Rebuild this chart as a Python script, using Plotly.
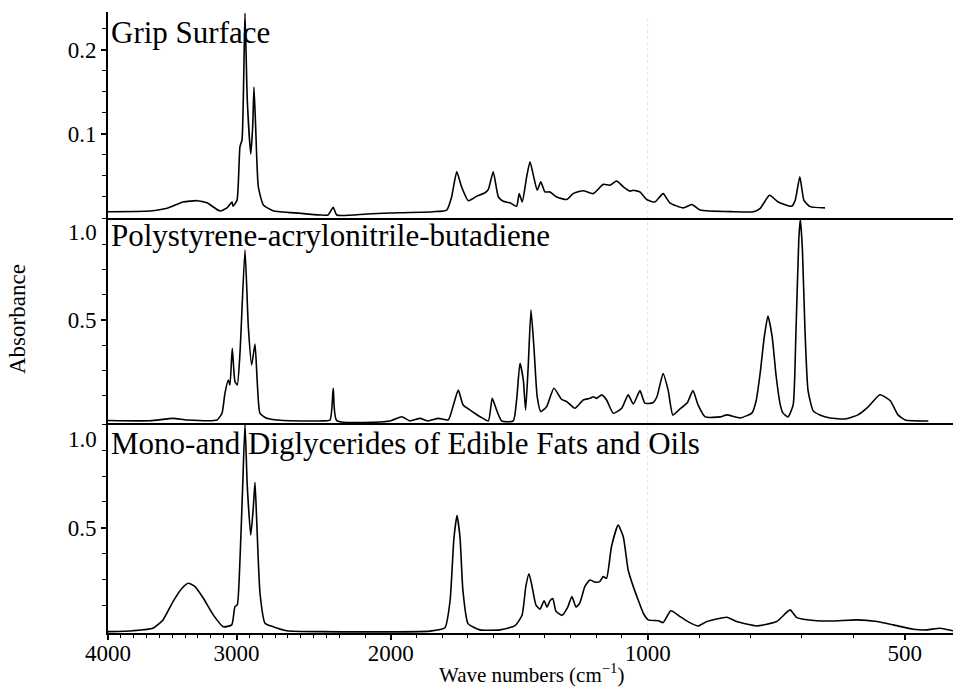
import plotly.graph_objects as go

# ---------------- data ----------------
grip_wn = [4000, 3673, 3541, 3416, 3307, 3230, 3128, 3074, 3035, 3027, 2996, 2973, 2957, 2934,
           2916, 2889, 2874, 2864, 2851, 2830, 2791, 2716, 2506, 2350, 2288, 2247, 2220, 2093,
           1964, 1834, 1782, 1763, 1743, 1724, 1698, 1665, 1633, 1620, 1601, 1581, 1562, 1536,
           1510, 1500, 1488, 1471, 1458, 1445, 1430, 1416, 1400, 1380, 1354, 1315, 1290, 1251,
           1212, 1173, 1147, 1121, 1095, 1069, 1056, 1030, 1004, 986, 970, 957, 931, 914, 898,
           833, 794, 781, 763, 746, 720, 713, 704, 696, 684, 655]
grip_abs = [0.0075, 0.0083, 0.0115, 0.019, 0.0206, 0.018, 0.0083, 0.012, 0.019, 0.014, 0.021, 0.085,
            0.093, 0.244, 0.14, 0.076, 0.109, 0.156, 0.109, 0.037, 0.0155, 0.0087, 0.0056, 0.0036,
            0.0036, 0.0127, 0.0036, 0.0048, 0.0063, 0.0075, 0.0095, 0.025, 0.055, 0.037, 0.0206,
            0.026, 0.030, 0.034, 0.055, 0.025, 0.020, 0.018, 0.014, 0.029, 0.019, 0.049, 0.067,
            0.051, 0.033, 0.043, 0.031, 0.031, 0.025, 0.022, 0.029, 0.0325, 0.029, 0.040, 0.039,
            0.044, 0.037, 0.032, 0.033, 0.031, 0.022, 0.019, 0.029, 0.018, 0.012, 0.016, 0.0095,
            0.0075, 0.0075, 0.0115, 0.027, 0.019, 0.014, 0.021, 0.049, 0.021, 0.0135, 0.012]

abs_wn = [4000, 3673, 3494, 3385, 3152, 3113, 3090, 3064, 3051, 3033, 3012, 2994, 2973, 2934,
          2908, 2882, 2856, 2838, 2817, 2765, 2636, 2350, 2272, 2247, 2220, 2003, 1957, 1925,
          1886, 1854, 1815, 1776, 1754, 1737, 1718, 1691, 1652, 1620, 1605, 1588, 1568, 1523,
          1510, 1497, 1484, 1475, 1465, 1454, 1442, 1430, 1416, 1393, 1365, 1335, 1315, 1283,
          1251, 1225, 1212, 1198, 1179, 1160, 1134, 1101, 1076, 1056, 1030, 1011, 990, 982, 970,
          960, 951, 937, 923, 912, 902, 888, 859, 846, 820, 797, 789, 781, 773, 766, 758, 750,
          742, 737, 727, 717, 712, 706, 703, 699, 694, 688, 678, 665, 645, 616, 591, 571, 548,
          528, 513, 499, 454]
abs_abs = [0.002, 0.001, 0.013, 0.005, 0.005, 0.038, 0.137, 0.203, 0.178, 0.36, 0.195, 0.178,
           0.335, 0.847, 0.467, 0.277, 0.381, 0.187, 0.038, 0.013, 0.002, 0.0, 0.005, 0.162, 0.002,
           0.0, 0.021, 0.0, 0.013, 0.0, 0.013, 0.005, 0.088, 0.153, 0.079, 0.054, 0.021, 0.0, 0.112,
           0.054, 0.0, 0.0, 0.104, 0.286, 0.203, 0.054, 0.269, 0.55, 0.351, 0.12, 0.046, 0.071,
           0.162, 0.107, 0.096, 0.063, 0.104, 0.112, 0.12, 0.112, 0.129, 0.104, 0.038, 0.063,
           0.129, 0.084, 0.15, 0.088, 0.09, 0.12, 0.235, 0.15, 0.03, 0.06, 0.09, 0.15, 0.08, 0.02,
           0.02, 0.03, 0.015, 0.04, 0.1, 0.24, 0.42, 0.52, 0.42, 0.22, 0.08, 0.04, 0.02, 0.08, 0.4,
           0.9, 1.0, 0.85, 0.45, 0.15, 0.05, 0.03, 0.015, 0.01, 0.03, 0.07, 0.13, 0.1, 0.03, 0.005,
           0.0]

mono_wn = [4000, 3805, 3650, 3572, 3494, 3424, 3375, 3323, 3258, 3181, 3103, 3037, 3012, 2994,
           2973, 2952, 2934, 2916, 2889, 2869, 2856, 2843, 2817, 2778, 2714, 2609, 2350, 1847,
           1789, 1769, 1754, 1742, 1730, 1719, 1699, 1653, 1575, 1516, 1489, 1474, 1462, 1450,
           1435, 1419, 1403, 1392, 1380, 1369, 1357, 1334, 1311, 1295, 1279, 1264, 1244, 1225,
           1206, 1187, 1173, 1160, 1141, 1115, 1095, 1076, 1056, 1037, 1017, 999, 979, 970, 955,
           937, 918, 902, 885, 846, 827, 788, 749, 723, 710, 671, 639, 593, 554, 522, 483, 457,
           431, 406]
mono_abs = [0.0015, 0.006, 0.018, 0.058, 0.146, 0.21, 0.234, 0.218, 0.162, 0.082, 0.025, 0.034,
            0.122, 0.13, 0.346, 0.70, 1.0, 0.70, 0.466, 0.60, 0.72, 0.54, 0.186, 0.042, 0.025,
            0.006, 0.0015, 0.004, 0.02, 0.15, 0.45, 0.56, 0.45, 0.2, 0.04, 0.01, 0.01, 0.03, 0.08,
            0.22, 0.28, 0.22, 0.13, 0.11, 0.15, 0.12, 0.15, 0.16, 0.10, 0.08, 0.12, 0.17, 0.12,
            0.14, 0.22, 0.25, 0.24, 0.242, 0.266, 0.258, 0.41, 0.514, 0.458, 0.298, 0.218, 0.154,
            0.09, 0.058, 0.054, 0.045, 0.102, 0.074, 0.045, 0.029, 0.05, 0.071, 0.05, 0.029, 0.05,
            0.106, 0.069, 0.054, 0.053, 0.058, 0.05, 0.034, 0.013, 0.01, 0.018, 0.006]

panel_names = ["Grip Surface", "Polystyrene-acrylonitrile-butadiene",
               "Mono-and Diglycerides of Edible Fats and Oils"]
x_tick_values = [4000, 3000, 2000, 1000, 500]
x_tick_labels = ["4000", "3000", "2000", "1000", "500"]
x_minor_values = [v for v in range(3900, 400, -100) if v not in x_tick_values]
top_label = "1.0"


# abscissa of the spectrometer display: 1x above 2200, 2x from 2200 to 1000, 4x below 1000 cm-1
def to_axis(nu):
    if nu >= 2200:
        return 4000 - nu
    if nu >= 1000:
        return 1800 + 2 * (2200 - nu)
    return 4200 + 4 * (1000 - nu)


X_END = 406
FONT = "Liberation Serif, Times New Roman, serif"
LINE = dict(color="black", width=1.6, shape="spline", smoothing=0.5)

fig = go.Figure()
fig.add_trace(go.Scatter(x=[to_axis(v) for v in grip_wn], y=grip_abs, mode="lines", line=LINE,
                         xaxis="x3", yaxis="y", name=panel_names[0]))
fig.add_trace(go.Scatter(x=[to_axis(v) for v in abs_wn], y=abs_abs, mode="lines", line=LINE,
                         xaxis="x2", yaxis="y2", name=panel_names[1]))
fig.add_trace(go.Scatter(x=[to_axis(v) for v in mono_wn], y=mono_abs, mode="lines", line=LINE,
                         xaxis="x", yaxis="y3", name=panel_names[2]))

xr = [to_axis(4000), to_axis(X_END)]
common_y = dict(showline=True, linewidth=2, linecolor="black", ticks="outside", ticklen=5,
                tickwidth=1.5, tickcolor="black", showgrid=False, zeroline=False,
                tickfont=dict(family=FONT, size=23, color="black"))
sep_x = dict(range=xr, showline=True, linewidth=1.5, linecolor="black", showticklabels=False,
             ticks="", showgrid=False, zeroline=False, matches="x")
minor_big = dict(tickvals=[0.125, 0.25, 0.375, 0.625, 0.75, 0.875, 1.0],
                 ticks="outside", ticklen=4, tickwidth=1, tickcolor="black")

fig.update_layout(
    width=953, height=696,
    margin=dict(l=108, r=0, t=12, b=63),
    plot_bgcolor="white", paper_bgcolor="white", showlegend=False,
    font=dict(family=FONT, color="black"),
    xaxis=dict(range=xr, anchor="y3", domain=[0, 1], showline=True, linewidth=2,
               linecolor="black", ticks="outside", ticklen=5, tickwidth=1.5, tickcolor="black",
               tickvals=[to_axis(v) for v in x_tick_values], ticktext=x_tick_labels,
               tickfont=dict(family=FONT, size=23, color="black"), showgrid=False,
               zeroline=False, ticklabelstandoff=-7,
               minor=dict(tickvals=[to_axis(v) for v in x_minor_values], ticks="outside",
                          ticklen=3, tickwidth=1, tickcolor="black", showgrid=False)),
    xaxis2=dict(anchor="y2", **sep_x),
    xaxis3=dict(anchor="y", **sep_x),
    yaxis=dict(domain=[0.6683, 1.0], range=[0, 0.2452], anchor="x3",
               tickvals=[0.1, 0.2], ticktext=["0.1", "0.2"],
               minor=dict(tickvals=[0.025, 0.05, 0.075, 0.125, 0.15, 0.175, 0.225],
                          ticks="outside", ticklen=4, tickwidth=1, tickcolor="black"),
               **common_y),
    yaxis2=dict(domain=[0.3382, 0.6683], range=[-0.01, 1.005], anchor="x2",
                tickvals=[0.5], ticktext=["0.5"], minor=minor_big, **common_y),
    yaxis3=dict(domain=[0, 0.3382], range=[-0.005, 1.005], anchor="x",
                tickvals=[0.5], ticktext=["0.5"], minor=minor_big, **common_y),
)

# the "1.0" labels sit just below the top of their panels, as in the original print
for ycen in (232, 440):
    fig.add_annotation(text=top_label, xref="paper", yref="paper", x=0, xshift=-9,
                       y=(633 - ycen) / 621, xanchor="right", yanchor="middle",
                       showarrow=False, font=dict(family=FONT, size=23, color="black"))

# faint dotted guide at the 1000 cm-1 scale change
fig.add_shape(type="line", xref="x", yref="paper", x0=to_axis(1000), x1=to_axis(1000),
              y0=0, y1=0.99, line=dict(color="#e2e2e2", width=1, dash="dot"), layer="below")

label_y = [(633 - 32) / 621, (633 - 235) / 621, (633 - 443.5) / 621]
for name, yy in zip(panel_names, label_y):
    fig.add_annotation(text=name, xref="paper", yref="paper", x=0, y=yy, xshift=1,
                       xanchor="left", yanchor="middle", showarrow=False,
                       font=dict(family=FONT, size=31, color="black"))

fig.add_annotation(text="Absorbance", xref="paper", yref="paper", x=(17 - 108) / 845,
                   y=(633 - 319) / 621, textangle=-90, xanchor="center", yanchor="middle",
                   showarrow=False, font=dict(family=FONT, size=23, color="black"))
fig.add_annotation(text="Wave numbers (cm<sup>−1</sup>)", xref="paper", yref="paper",
                   x=(531 - 108) / 845, y=(633 - 673) / 621, xanchor="center",
                   yanchor="middle", showarrow=False,
                   font=dict(family=FONT, size=21, color="black"))

fig.write_html("out.html")
